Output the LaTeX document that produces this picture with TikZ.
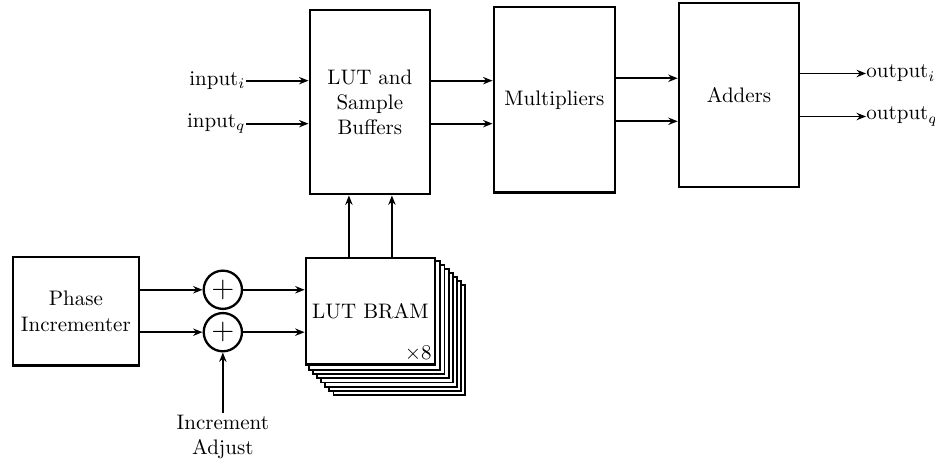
\documentclass[tikz,border=0pt]{standalone}
\usetikzlibrary{arrows.meta,positioning,calc,backgrounds}

\begin{document}
\begin{tikzpicture}[
          blk/.style={draw,rectangle,line width=1.2pt,fill=white,align=center,inner sep=2pt},
          sm/.style={draw,circle,line width=1.1pt,minimum size=0.64cm,inner sep=0},
          e/.style={-{Stealth[length=4.5pt,width=3.5pt]},line width=0.9pt}]
        \useasboundingbox (0,0) rectangle (15.65,7.70);

        % lower row
        \node[blk,minimum width=2.11cm,minimum height=1.81cm] (phase) at (1.27,2.49) {Phase\\Incrementer};
        \node[sm] (sa) at (3.73,2.85) {\Large$+$};
        \node[sm] (sb) at (3.73,2.14) {\Large$+$};
        \node[align=center,anchor=north,inner sep=1pt] (adj) at (3.73,0.79) {Increment\\Adjust};
        \node[blk,minimum width=2.16cm,minimum height=1.79cm] (bram) at (6.20,2.49) {LUT BRAM};
        \node[anchor=south east,inner sep=2pt] (cnt) at (bram.south east) {$\times8$};
        \begin{scope}[on background layer]
          \foreach \k in {7,6,...,1}
            \draw[line width=0.9pt,fill=white]
              ([shift={(\k*0.069,-\k*0.069)}]bram.south west) rectangle
              ([shift={(\k*0.069,-\k*0.069)}]bram.north east);
        \end{scope}

        % upper row
        \node[blk,minimum width=2.01cm,minimum height=3.08cm] (lut) at (6.19,5.99) {LUT and\\Sample\\Buffers};
        \node[blk,minimum width=2.03cm,minimum height=3.10cm] (mult) at (9.28,6.03) {Multipliers};
        \node[blk,minimum width=2.01cm,minimum height=3.08cm] (add) at (12.37,6.11) {Adders};

        \node[anchor=east,inner sep=0.3pt] (ini) at ($(lut.west)+(-1.04,0.36)$) {input$_i$};
        \node[anchor=east,inner sep=0.3pt] (inq) at ($(lut.west)+(-1.04,-0.36)$) {input$_q$};
        \node[anchor=west,inner sep=0pt] (outi) at ($(add.east)+(1.10,0.36)$) {output$_i$};
        \node[anchor=west,inner sep=0pt] (outq) at ($(add.east)+(1.10,-0.36)$) {output$_q$};

        \draw[e] (sa -| phase.east) -- (sa); \draw[e] (sb -| phase.east) -- (sb);
        \draw[e] (sa) -- (sa -| bram.west); \draw[e] (sb) -- (sb -| bram.west);
        \draw[e] (adj) -- (sb);
        \draw[e] ([xshift=-0.36cm]bram.north) -- ([xshift=-0.36cm]bram.north |- lut.south);
        \draw[e] ([xshift=0.36cm]bram.north) -- ([xshift=0.36cm]bram.north |- lut.south);

        \draw[e] (ini.east) -- (ini.east -| lut.west); \draw[e] (inq.east) -- (inq.east -| lut.west);
        \draw[e] ([yshift=0.36cm]lut.east) -- ([yshift=0.36cm]lut.east -| mult.west);
        \draw[e] ([yshift=-0.36cm]lut.east) -- ([yshift=-0.36cm]lut.east -| mult.west);
        \draw[e] ([yshift=0.36cm]mult.east) -- ([yshift=0.36cm]mult.east -| add.west);
        \draw[e] ([yshift=-0.36cm]mult.east) -- ([yshift=-0.36cm]mult.east -| add.west);
        \draw[e] (outi.west -| add.east) -- (outi.west);
        \draw[e] (outq.west -| add.east) -- (outq.west);
      \end{tikzpicture}
\end{document}
